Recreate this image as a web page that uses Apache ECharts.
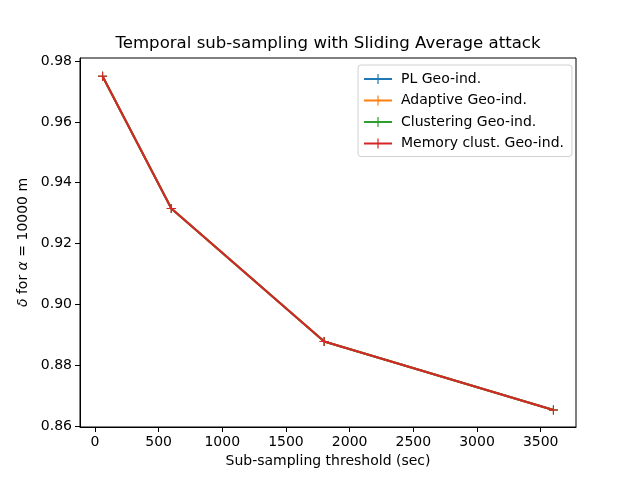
<!DOCTYPE html>
<html><head><meta charset="utf-8">
<script src="https://cdn.jsdelivr.net/npm/echarts@6/dist/echarts.min.js"></script>
<style>html,body{margin:0;padding:0;background:#fff}#c{width:640px;height:480px}</style>
</head><body><div id="c"></div>
<script>
const thresholds = [60, 600, 1800, 3600];
const plGeo = [0.975, 0.9315, 0.8878, 0.8653];
const adaptiveGeo = [0.975, 0.9315, 0.8878, 0.8653];
const clusteringGeo = [0.975, 0.9315, 0.8878, 0.8653];
const memoryGeo = [0.975, 0.9315, 0.8878, 0.8653];
const xTicks = [0, 500, 1000, 1500, 2000, 2500, 3000, 3500];
const yTicks = [0.86, 0.88, 0.90, 0.92, 0.94, 0.96, 0.98];
const seriesNames = ['PL Geo-ind.', 'Adaptive Geo-ind.', 'Clustering Geo-ind.', 'Memory clust. Geo-ind.'];
const seriesData = [plGeo, adaptiveGeo, clusteringGeo, memoryGeo];
const colors = ['#1f77b4', '#ff7f0e', '#2ca02c', '#d62728'];

const plus = 'path://M0,4.4H10V5.6H0Z M4.4,0H5.6V10H4.4Z';
const legendIcon = 'path://M0,4.1H28V5.9H0Z M13.4,0H14.6V10H13.4Z';
const font = 'DejaVu Sans';

const chart = echarts.init(document.getElementById('c'), null, {renderer: 'canvas'});
chart.setOption({
  animation: false,
  backgroundColor: '#fff',
  textStyle: {fontFamily: font},
  title: {
    text: 'Temporal sub-sampling with Sliding Average attack',
    left: 323, top: 30, textAlign: 'center',
    textStyle: {fontFamily: font, fontSize: 16.6, fontWeight: 'normal', color: '#000'}
  },
  grid: {left: 80, right: 64, top: 58, bottom: 53, show: true, borderColor: '#000', borderWidth: 1, containLabel: false},
  legend: {
    orient: 'vertical', left: 358, top: 65,
    data: seriesNames.map(n => ({name: n, icon: legendIcon})),
    itemWidth: 28, itemHeight: 10, itemGap: 7.5,
    padding: [7, 8, 6, 6],
    borderColor: '#d0d0d0', borderWidth: 1, borderRadius: 3,
    backgroundColor: 'rgba(255,255,255,0.8)',
    textStyle: {fontFamily: font, fontSize: 14, color: '#000', padding: [0, 0, 0, 4]}
  },
  xAxis: {
    type: 'value', min: -117, max: 3777,
    name: 'Sub-sampling threshold (sec)', nameLocation: 'middle', nameGap: 27,
    nameTextStyle: {fontFamily: font, fontSize: 14, color: '#000'},
    axisLine: {show: true, onZero: false, lineStyle: {color: '#000', width: 1}},
    axisTick: {show: true, length: 5, lineStyle: {color: '#000'}, customValues: xTicks},
    axisLabel: {color: '#000', fontSize: 14, fontFamily: font, margin: 8, customValues: xTicks,
      formatter: v => String(Math.round(v))},
    splitLine: {show: false}
  },
  yAxis: {
    type: 'value', min: 0.8597, max: 0.981,
    name: '{i|δ} for {i|α} = 10000 m', nameLocation: 'middle', nameGap: 47, nameRotate: 90,
    nameTextStyle: {fontFamily: font, fontSize: 14, color: '#000', rich: {i: {fontStyle: 'italic', fontFamily: font, fontSize: 14, color: '#000'}}},
    axisLine: {show: true, onZero: false, lineStyle: {color: '#000', width: 1}},
    axisTick: {show: true, length: 5, lineStyle: {color: '#000'}, customValues: yTicks},
    axisLabel: {color: '#000', fontSize: 14, fontFamily: font, margin: 8, customValues: yTicks,
      formatter: v => v.toFixed(2)},
    splitLine: {show: false}
  },
  series: seriesNames.map((n, k) => ({
    name: n, type: 'line',
    data: thresholds.map((t, i) => [t, seriesData[k][i]]),
    color: colors[k],
    lineStyle: {color: colors[k], width: 2},
    itemStyle: {color: colors[k]},
    symbol: plus, symbolSize: 9, showSymbol: true,
    z: 2 + k
  }))
});
</script></body></html>
